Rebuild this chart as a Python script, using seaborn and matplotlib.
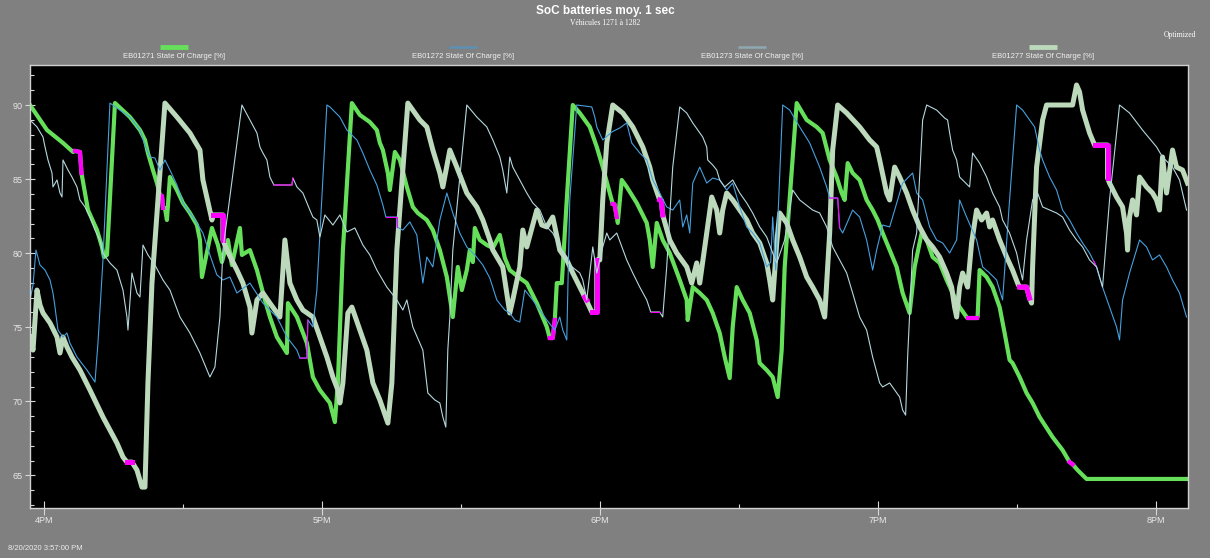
import matplotlib
matplotlib.use("Agg")
import matplotlib.pyplot as plt
from matplotlib import font_manager
from matplotlib.lines import Line2D
import pandas as pd
import seaborn as sns
from datetime import datetime, timedelta

# ---------------- data (minutes after 15:57:00, SoC %) ----------------
START = datetime(2020, 8, 20, 15, 57, 0)
SPAN_MIN = 250

series_names = ["EB01271 State Of Charge [%]", "EB01272 State Of Charge [%]",
                "EB01273 State Of Charge [%]", "EB01277 State Of Charge [%]"]
series_colors = ["#66e05a", "#46a0de", "#b4d8de", "#bcd9bc"]
legend_colors = ["#66e05a", "#5d90b5", "#8ea8b1", "#bcd9bc"]
gap_color = "#ff00ff"

pts_1271 = [(0.0, 90.0), (3.67, 88.31), (7.12, 87.44), (9.28, 86.83), (9.71, 86.9), (10.79, 86.83), (11.11, 85.41),
            (11.87, 84.06), (12.52, 82.91), (14.46, 81.56), (15.54, 80.42), (15.97, 79.74), (16.62, 79.88),
            (18.34, 90.13), (21.58, 89.19), (23.74, 88.31), (24.82, 87.64), (25.46, 86.76), (26.54, 85.61),
            (27.41, 84.73), (28.05, 83.93), (28.5, 83.86), (28.7, 83.05), (29.13, 83.05), (29.56, 82.24),
            (30.21, 85.14), (31.72, 84.26), (33.02, 83.39), (34.53, 82.71), (36.04, 81.90), (36.69, 80.89),
            (37.12, 78.39), (37.77, 79.40), (39.28, 81.70), (40.57, 80.55), (41.43, 79.40), (42.73, 80.89),
            (43.59, 79.20), (45.32, 81.70), (45.75, 79.88), (47.48, 80.21), (48.99, 78.86), (50.71, 76.84),
            (51.79, 75.69), (53.30, 74.34), (55.46, 73.26), (55.68, 76.63), (57.62, 75.69), (59.78, 73.93),
            (61.07, 71.64), (62.58, 70.76), (64.74, 69.89), (65.82, 68.60), (66.47, 71.24), (67.55, 80.21),
            (69.49, 90.13), (71.21, 89.33), (73.37, 88.85), (74.88, 88.31), (75.53, 87.44), (76.18, 86.96),
            (77.26, 85.41), (77.69, 84.26), (78.77, 86.83), (79.85, 86.29), (81.36, 84.47), (82.65, 83.12),
            (83.73, 82.71), (85.67, 82.24), (86.97, 81.56), (88.48, 80.21), (89.99, 78.39), (91.07, 76.16),
            (91.28, 75.69), (92.36, 79.07), (93.23, 77.51), (94.30, 78.86), (94.95, 80.21), (95.60, 79.40),
            (96.03, 81.70), (97.11, 80.89), (98.62, 80.55), (99.92, 80.35), (101.43, 81.23), (102.51, 79.67),
            (103.58, 78.86), (105.74, 78.32), (107.25, 77.98), (109.41, 76.63), (111.57, 75.02), (112.22, 74.27),
            (112.86, 74.27), (113.30, 75.49), (113.73, 77.98), (114.81, 77.98), (115.88, 83.59), (117.18, 90.0),
            (118.69, 89.46), (120.85, 88.52), (122.36, 87.17), (123.65, 85.81), (125.16, 84.06), (125.81, 83.32),
            (126.2, 83.30), (126.67, 82.44), (126.89, 82.04), (127.75, 84.94), (128.83, 84.47), (130.99, 83.39),
            (133.15, 82.04), (133.80, 80.89), (134.44, 79.07), (135.31, 82.04), (136.60, 80.89), (138.11, 80.01),
            (140.27, 78.19), (141.78, 76.84), (141.99, 75.49), (143.08, 77.71), (144.59, 77.31), (146.10, 76.84),
            (147.39, 75.96), (148.90, 74.61), (149.98, 72.99), (151.06, 71.57), (151.71, 75.02), (152.57, 77.71),
            (153.86, 76.84), (155.38, 75.96), (156.89, 74.14), (157.53, 72.58), (159.05, 72.11), (160.34, 71.64),
            (161.42, 70.29), (162.28, 73.46), (162.93, 79.07), (165.52, 90.13), (167.68, 88.99), (169.83, 88.52),
            (171.13, 88.11), (172.64, 86.29), (174.15, 85.14), (175.23, 84.06), (175.88, 83.59), (176.53, 86.08),
            (177.60, 85.41), (179.11, 84.94), (180.62, 83.59), (181.92, 82.91), (183.00, 82.24), (184.08, 81.36),
            (185.59, 80.21), (187.10, 79.07), (188.39, 77.31), (189.90, 75.96), (190.98, 79.07), (192.50, 81.36),
            (193.58, 80.89), (194.87, 79.74), (196.38, 79.34), (197.89, 78.19), (199.18, 77.31), (200.69, 76.36),
            (202.20, 75.69), (202.42, 75.62), (204.36, 75.62), (204.58, 75.69), (205.01, 78.86), (206.52, 78.39),
            (207.81, 77.71), (209.33, 76.36), (210.41, 74.61), (211.48, 72.79), (212.13, 72.58), (213.64, 71.64),
            (215.15, 70.56), (216.45, 69.89), (217.96, 68.94), (220.76, 67.59), (222.92, 66.71), (224.43, 65.90),
            (225.08, 65.75), (226.16, 65.36), (228.10, 64.76), (250.0, 64.76)]
gaps_1271 = [[(9.71, 86.9), (10.79, 86.83), (11.11, 85.41)],
             [(28.05, 83.93), (28.5, 83.86), (28.7, 83.05)],
             [(112.22, 74.27), (112.86, 74.27), (113.30, 75.49)],
             [(125.81, 83.32), (126.2, 83.30), (126.67, 82.44)],
             [(202.42, 75.62), (204.36, 75.62)],
             [(224.43, 65.90), (225.08, 65.75)]]

pts_1272 = [(0.0, 76.84), (0.65, 77.85), (1.29, 80.21), (2.16, 79.20), (3.24, 78.86), (4.32, 78.19), (4.96, 77.31),
            (5.40, 76.36), (6.04, 74.81), (7.12, 74.34), (7.98, 74.61), (8.63, 73.93), (10.14, 72.99), (12.30, 72.11),
            (14.03, 71.30), (14.67, 73.93), (15.75, 79.54), (17.26, 90.13), (19.42, 89.66), (21.58, 89.19),
            (23.74, 88.31), (24.82, 87.30), (25.90, 86.49), (26.98, 86.42), (28.05, 85.61), (29.13, 86.29),
            (30.21, 85.61), (31.72, 84.60), (33.02, 83.39), (35.18, 82.44), (37.33, 81.36), (38.84, 79.88),
            (40.35, 78.53), (41.65, 78.19), (43.16, 78.39), (44.67, 77.31), (47.48, 77.98), (50.28, 76.63),
            (53.30, 75.69), (55.46, 74.34), (57.62, 73.46), (58.27, 72.92), (59.78, 72.92), (59.99, 75.49),
            (61.07, 75.02), (61.93, 77.51), (64.09, 90.0), (64.74, 89.87), (66.90, 89.19), (68.41, 88.31),
            (70.57, 87.64), (71.86, 86.76), (73.37, 85.61), (74.88, 84.60), (76.18, 83.25), (76.82, 82.44),
            (79.20, 82.44), (79.20, 81.77), (80.49, 81.56), (82.00, 82.11), (83.51, 81.23), (84.81, 77.98),
            (85.67, 79.74), (86.97, 79.07), (88.48, 82.24), (89.99, 84.06), (91.28, 82.71), (92.79, 81.36),
            (94.30, 80.42), (96.03, 79.88), (97.76, 79.20), (99.27, 78.32), (100.78, 76.84), (102.51, 76.16),
            (103.58, 75.96), (104.66, 75.49), (105.74, 75.35), (106.82, 77.51), (108.55, 76.84), (110.06, 76.16),
            (111.57, 75.49), (113.30, 74.81), (114.37, 75.69), (115.02, 74.81), (115.88, 74.14), (116.53, 83.59),
            (118.04, 90.0), (121.28, 89.87), (121.93, 89.19), (122.36, 88.52), (123.65, 87.64), (125.60, 88.18),
            (127.32, 88.45), (128.83, 88.79), (129.91, 87.44), (131.64, 86.76), (133.15, 86.29), (134.44, 84.94),
            (135.95, 84.06), (137.46, 83.12), (138.76, 82.91), (140.27, 83.59), (140.92, 81.77), (141.78, 82.58),
            (142.43, 81.36), (143.08, 84.73), (144.59, 85.81), (146.10, 84.73), (147.39, 85.07), (148.90, 84.94),
            (150.41, 84.26), (151.71, 84.73), (153.22, 83.12), (154.73, 81.77), (156.02, 81.36), (157.53, 80.69),
            (159.05, 79.07), (159.91, 79.40), (160.34, 82.44), (160.99, 78.86), (162.50, 90.0), (164.01, 89.66),
            (166.17, 88.52), (168.32, 87.44), (170.48, 85.81), (171.99, 84.47), (172.64, 83.72), (174.37, 83.72),
            (174.80, 81.70), (175.45, 81.36), (177.60, 82.91), (179.11, 82.44), (180.62, 80.89), (181.92, 78.86),
            (182.78, 80.21), (184.08, 81.90), (185.59, 81.77), (188.39, 84.73), (190.55, 85.41), (191.42, 84.06),
            (192.71, 83.59), (194.22, 81.77), (195.73, 80.89), (197.03, 80.69), (198.54, 80.01), (200.05, 80.89),
            (200.69, 83.59), (202.20, 82.44), (204.36, 80.89), (205.66, 79.07), (207.17, 78.66), (208.68, 78.19),
            (209.97, 76.84), (211.48, 83.59), (213.00, 90.0), (214.29, 89.66), (215.80, 88.99), (216.88, 88.52),
            (217.96, 86.96), (218.61, 86.29), (220.12, 85.14), (221.63, 84.26), (222.92, 82.91), (224.43, 82.24),
            (225.94, 81.36), (227.24, 80.69), (228.75, 80.01), (230.26, 79.07), (231.55, 77.71), (233.06, 76.36),
            (234.57, 75.02), (235.22, 74.14), (235.87, 76.84), (237.38, 78.66), (238.89, 80.21), (239.54, 80.89),
            (241.05, 80.42), (242.34, 79.54), (243.85, 79.88), (245.37, 79.07), (246.66, 78.19), (248.17, 77.31),
            (249.68, 75.69)]
gaps_1272 = [[(58.27, 72.92), (59.78, 72.92), (59.99, 75.49)],
             [(76.82, 82.44), (79.20, 82.44), (79.20, 81.77)],
             [(172.64, 83.72), (174.37, 83.72), (174.80, 81.70)],
             [(229.6, 79.5), (230.26, 79.07)]]

pts_1273 = [(0.0, 88.99), (1.51, 88.52), (2.81, 87.84), (3.24, 87.17), (3.88, 86.29), (4.75, 85.41), (4.96, 84.47),
            (5.83, 84.94), (6.47, 84.06), (6.91, 83.79), (7.12, 86.29), (8.20, 85.61), (9.06, 85.14), (10.14, 84.47),
            (10.79, 83.59), (11.87, 83.12), (12.95, 82.44), (14.03, 81.56), (15.11, 80.89), (15.75, 80.01),
            (17.26, 79.34), (18.77, 78.86), (20.07, 77.51), (20.93, 75.69), (21.15, 74.81), (22.01, 78.66),
            (23.09, 77.31), (23.74, 77.04), (24.39, 80.55), (25.46, 79.88), (26.98, 79.20), (28.70, 78.19),
            (30.21, 77.51), (32.37, 75.69), (34.53, 74.61), (36.69, 73.26), (38.84, 71.64), (39.92, 72.31),
            (41.00, 75.69), (41.65, 80.21), (45.75, 90.0), (47.48, 88.99), (48.99, 88.11), (49.63, 87.17),
            (50.28, 86.76), (51.14, 86.29), (51.79, 85.14), (52.65, 84.60), (56.54, 84.60), (56.76, 85.07),
            (57.62, 84.47), (58.91, 84.06), (60.42, 82.91), (61.07, 82.44), (61.93, 82.24), (62.58, 81.09),
            (63.66, 82.58), (65.39, 81.90), (66.90, 82.58), (68.41, 81.43), (70.14, 81.70), (71.86, 80.55),
            (73.37, 79.88), (74.88, 78.86), (77.04, 77.71), (79.20, 76.84), (80.49, 76.16), (81.36, 76.84),
            (82.65, 75.02), (84.81, 73.46), (85.89, 70.56), (87.40, 70.09), (88.48, 69.89), (89.13, 68.94),
            (89.77, 68.26), (90.20, 73.46), (90.64, 75.69), (91.28, 80.21), (94.30, 90.0), (96.46, 89.19),
            (98.62, 88.52), (99.92, 87.64), (101.43, 86.49), (102.07, 85.61), (102.94, 84.06), (103.58, 86.49),
            (104.23, 85.81), (105.74, 84.94), (107.25, 84.06), (108.55, 83.39), (110.06, 82.91), (111.57, 81.77),
            (112.86, 81.36), (114.37, 80.42), (116.53, 79.20), (118.69, 78.66), (119.34, 78.19), (120.20, 76.84),
            (121.50, 80.42), (122.36, 78.66), (123.65, 80.42), (124.52, 81.36), (125.16, 80.89), (126.67, 81.36),
            (128.83, 79.54), (130.13, 78.66), (131.64, 77.71), (133.15, 76.84), (134.01, 76.03), (135.95, 76.03),
            (136.60, 75.69), (137.46, 79.07), (138.76, 85.81), (140.27, 89.87), (141.78, 89.46), (143.08, 88.79),
            (145.23, 87.84), (146.10, 87.17), (146.31, 86.29), (147.39, 85.95), (148.26, 85.61), (148.90, 84.94),
            (149.98, 84.47), (151.71, 84.94), (153.22, 84.06), (154.73, 83.39), (156.02, 82.71), (157.53, 81.77),
            (159.05, 81.09), (160.34, 80.01), (161.21, 79.34), (162.93, 80.89), (164.66, 84.26), (166.17, 83.59),
            (168.97, 82.91), (170.48, 82.71), (171.99, 81.77), (173.29, 80.42), (174.80, 79.54), (176.31, 78.66),
            (177.60, 77.31), (179.11, 75.69), (180.62, 74.81), (181.92, 72.99), (183.43, 71.24), (184.08, 70.97),
            (185.59, 71.24), (186.67, 70.76), (187.75, 70.29), (188.39, 69.41), (189.04, 69.07), (189.47, 72.99),
            (190.55, 80.21), (191.42, 81.36), (192.71, 88.99), (193.58, 90.0), (195.73, 89.66), (197.46, 89.12),
            (198.10, 88.99), (198.54, 88.11), (199.18, 86.96), (200.05, 86.29), (200.69, 85.14), (201.34, 84.94),
            (202.85, 84.47), (203.50, 86.76), (205.01, 86.08), (206.52, 85.14), (207.81, 84.06), (209.33, 83.12),
            (209.97, 82.24), (211.48, 81.36), (213.00, 80.01), (213.64, 79.07), (214.29, 78.19), (215.15, 80.89),
            (216.45, 83.59), (217.53, 84.06), (218.61, 83.12), (221.63, 82.71), (222.92, 82.44), (224.43, 81.56),
            (225.94, 80.89), (227.24, 80.42), (228.75, 79.54), (230.26, 79.07), (231.55, 77.71), (233.06, 83.59),
            (235.22, 90.0), (237.38, 89.46), (240.18, 88.31), (243.21, 87.17), (244.50, 86.49), (246.66, 85.81),
            (248.17, 84.94), (249.68, 82.91)]
gaps_1273 = [[(52.65, 84.60), (56.54, 84.60), (56.76, 85.07)],
             [(134.01, 76.03), (135.95, 76.03)]]

pts_1277 = [(0.0, 74.34), (0.65, 73.46), (1.51, 77.51), (2.16, 76.5), (2.81, 75.96), (4.32, 75.29), (5.83, 74.34),
            (6.47, 73.26), (7.12, 74.34), (7.98, 73.67), (9.06, 72.99), (10.79, 72.11), (12.95, 70.76), (15.75, 68.94),
            (18.77, 67.18), (20.07, 66.24), (20.93, 65.90), (22.01, 65.90), (23.09, 65.36), (24.17, 64.21),
            (24.82, 64.21), (25.46, 71.24), (26.33, 77.98), (29.13, 90.13), (31.72, 89.19), (34.53, 88.11),
            (36.69, 86.96), (37.33, 84.94), (39.28, 82.24), (39.49, 82.58), (41.65, 82.58), (41.65, 80.89),
            (42.51, 80.21), (44.67, 78.86), (45.97, 77.98), (47.48, 76.36), (47.91, 74.61), (48.99, 76.84),
            (50.28, 77.31), (51.79, 76.63), (53.95, 75.69), (55.03, 80.89), (56.11, 77.98), (57.62, 76.84),
            (58.91, 76.16), (61.07, 75.69), (62.58, 74.34), (64.09, 72.99), (65.39, 71.64), (66.47, 70.76),
            (66.90, 69.89), (67.55, 71.24), (68.62, 75.96), (69.49, 76.36), (71.21, 74.81), (72.72, 73.46),
            (74.02, 71.24), (75.53, 70.09), (77.26, 68.53), (78.12, 71.24), (79.20, 80.21), (81.57, 90.13),
            (84.16, 88.99), (85.67, 88.52), (86.97, 86.96), (88.48, 85.41), (89.13, 84.47), (90.64, 86.96),
            (92.14, 85.81), (94.30, 84.06), (96.46, 83.12), (97.76, 82.24), (99.27, 80.89), (99.92, 80.21),
            (102.07, 79.07), (103.15, 76.84), (103.58, 75.96), (104.23, 76.84), (105.74, 79.07), (106.39, 81.56),
            (107.25, 80.42), (109.41, 82.91), (110.49, 81.90), (111.57, 81.77), (112.86, 82.44), (114.37, 80.21),
            (115.88, 79.54), (117.18, 78.66), (118.69, 77.71), (119.77, 77.04), (121.28, 76.03), (122.36, 76.03),
            (122.36, 79.54), (123.01, 79.54), (123.65, 83.59), (124.52, 87.44), (125.81, 90.0), (127.97, 89.46),
            (130.13, 88.52), (132.29, 87.17), (133.80, 85.81), (134.44, 84.94), (135.95, 83.59), (136.3, 83.55),
            (136.60, 82.58), (138.11, 80.89), (139.62, 80.01), (141.78, 79.07), (142.86, 77.98), (143.94, 79.34),
            (144.59, 77.98), (146.10, 81.36), (147.18, 83.79), (148.26, 82.91), (148.90, 81.36), (149.55, 82.91),
            (150.41, 84.06), (151.71, 83.59), (153.22, 82.91), (154.73, 82.24), (156.02, 81.36), (157.53, 80.69),
            (159.05, 79.34), (159.69, 78.19), (160.34, 76.84), (161.21, 80.69), (161.85, 82.71), (163.36, 82.04),
            (164.66, 80.89), (166.17, 79.74), (167.68, 78.39), (168.97, 77.71), (170.48, 76.84), (171.56, 75.69),
            (172.64, 81.36), (173.29, 86.96), (174.37, 90.0), (176.31, 89.46), (179.11, 88.52), (181.27, 87.64),
            (182.78, 87.17), (183.43, 86.29), (184.94, 84.06), (185.59, 83.59), (186.67, 85.81), (187.75, 85.14),
            (189.26, 84.06), (190.55, 82.91), (192.06, 81.77), (193.58, 80.89), (194.87, 80.42), (196.38, 79.74),
            (197.89, 78.66), (198.97, 77.71), (199.61, 76.36), (200.05, 75.69), (200.69, 77.71), (201.34, 78.66),
            (202.42, 77.71), (203.28, 80.69), (204.36, 82.91), (205.44, 82.24), (206.52, 82.71), (207.17, 81.77),
            (207.81, 82.24), (209.33, 80.89), (210.84, 79.74), (212.13, 78.86), (213.21, 77.98), (213.64, 77.71),
            (215.15, 77.71), (215.80, 76.97), (216.23, 76.63), (216.45, 79.07), (217.31, 85.81), (218.61, 88.99),
            (219.47, 90.0), (225.08, 90.0), (225.94, 91.35), (226.59, 90.88), (227.24, 89.66), (228.75, 88.11),
            (229.83, 87.30), (232.63, 87.30), (232.63, 85.07), (233.06, 84.73), (234.57, 83.79), (235.87, 83.12),
            (236.73, 81.36), (236.95, 80.21), (237.38, 82.44), (238.03, 83.59), (238.89, 82.58), (239.54, 85.14),
            (241.05, 84.47), (242.34, 84.06), (243.21, 83.59), (243.85, 82.91), (244.50, 86.49), (245.37, 84.06),
            (246.66, 86.96), (247.52, 85.81), (248.82, 85.61), (249.90, 84.73)]
gaps_1277 = [[(20.93, 65.90), (22.01, 65.90)],
             [(39.49, 82.58), (41.65, 82.58), (41.65, 80.89)],
             [(119.77, 77.04), (120.2, 76.84)],
             [(121.28, 76.03), (122.36, 76.03), (122.36, 79.54)],
             [(135.95, 83.59), (136.3, 83.55), (136.60, 82.58)],
             [(213.64, 77.71), (215.15, 77.71), (215.80, 76.97)],
             [(229.83, 87.30), (232.63, 87.30), (232.63, 85.07)]]

hour_ticks = [16, 17, 18, 19, 20]
hour_labels = ["4PM", "5PM", "6PM", "7PM", "8PM"]
half_hour_ticks = [16, 17, 18, 19]
y_major = [65, 70, 75, 80, 85, 90]
y_minor = list(range(63, 93))
y_range = (62.8, 92.7)

title = "SoC batteries moy. 1 sec"
subtitle = "Véhicules 1271 à 1282"
corner_note = "Optimized"
stamp = "8/20/2020 3:57:00 PM"

# ---------------- fonts ----------------
avail = {f.name for f in font_manager.fontManager.ttflist}
sans = [f for f in ["Liberation Sans Narrow", "Liberation Sans", "DejaVu Sans"] if f in avail] or ["DejaVu Sans"]
serif = [f for f in ["Liberation Serif", "DejaVu Serif"] if f in avail] or ["DejaVu Serif"]
plt.rcParams["font.family"] = sans


def to_df(pts):
    return pd.DataFrame({"time": [START + timedelta(minutes=m) for m, _ in pts],
                         "soc": [v for _, v in pts]})


W, H = 1210, 558
fig = plt.figure(figsize=(W / 100, H / 100), dpi=100, facecolor="#808080")
ax = fig.add_axes([30 / W, 1 - 508 / H, (1188 - 30) / W, (508 - 65) / H])
ax.set_facecolor("black")

thick = [(pts_1271, gaps_1271, series_colors[0], 3.0),
         (pts_1277, gaps_1277, series_colors[3], 3.6)]
thin = [(pts_1272, gaps_1272, series_colors[1], 0.8),
        (pts_1273, gaps_1273, series_colors[2], 0.8)]

for pts, gaps, col, lw in thick + thin:
    sns.lineplot(data=to_df(pts), x="time", y="soc", sort=False, estimator=None,
                 color=col, linewidth=lw, ax=ax)
    for g in gaps:
        sns.lineplot(data=to_df(g), x="time", y="soc", sort=False, estimator=None,
                     color=gap_color, linewidth=lw, ax=ax)

day = START.replace(hour=0, minute=0, second=0)
ax.set_xlim(START, START + timedelta(minutes=SPAN_MIN))
ax.set_ylim(*y_range)
ax.set_xticks([day + timedelta(hours=h) for h in hour_ticks])
ax.set_xticklabels(hour_labels)
ax.set_xticks([day + timedelta(hours=h, minutes=30) for h in half_hour_ticks], minor=True)
ax.set_yticks(y_major)
ax.set_yticklabels([str(v) for v in y_major])
ax.set_yticks(y_minor, minor=True)
ax.set_xlabel("")
ax.set_ylabel("")

ax.tick_params(axis="x", which="major", direction="inout", length=10, width=0.8,
               colors="#d8d8d8", labelcolor="#e8e8e8", labelsize=6.5, pad=1)
ax.tick_params(axis="y", which="major", direction="inout", length=7, width=0.8,
               colors="#d8d8d8", labelcolor="#e8e8e8", labelsize=6.5, pad=2)
ax.tick_params(which="minor", direction="in", length=3, width=0.8, colors="#d8d8d8")
for s in ax.spines.values():
    s.set_color("#d0d0d0")
    s.set_linewidth(1.0)

# ---------------- titles ----------------
fig.text(0.5, 1 - 11 / H, title, ha="center", va="center", color="white",
         fontsize=8.5, fontweight="bold")
fig.text(0.5, 1 - 23 / H, subtitle, ha="center", va="center", color="white",
         fontsize=5.5, family=serif)
fig.text(1196 / W, 1 - 35 / H, corner_note, ha="right", va="center", color="white",
         fontsize=5.5, family=serif)
fig.text(8 / W, 1 - 548 / H, stamp, ha="left", va="center", color="#ececec", fontsize=5.5)

# ---------------- legend (sample line above label) ----------------
legend_x = [174, 463, 752, 1043]
legend_lw = [3.5, 1.8, 1.8, 3.5]
for name, col, cx, lw in zip(series_names, legend_colors, legend_x, legend_lw):
    fig.add_artist(Line2D([(cx - 14) / W, (cx + 14) / W], [1 - 47 / H, 1 - 47 / H],
                          transform=fig.transFigure, color=col, linewidth=lw,
                          solid_capstyle="butt"))
    fig.text(cx / W, 1 - 57 / H, name, ha="center", va="center", color="#f0f0f0", fontsize=5.5)

fig.savefig("out.png", dpi=100, facecolor=fig.get_facecolor())
